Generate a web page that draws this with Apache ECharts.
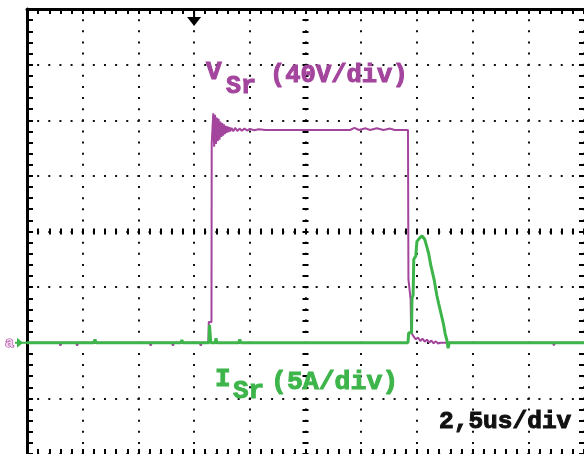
<!DOCTYPE html>
<html>
<head>
<meta charset="utf-8">
<script src="https://cdn.jsdelivr.net/npm/echarts@6/dist/echarts.min.js"></script>
<style>
html,body{margin:0;padding:0;background:#fff;}
#c{width:584px;height:454px;}
</style>
</head>
<body>
<div id="c"></div>
<script>
// Time axis: 2.5 us/div, 10 divisions
const timeTicks = [0, 25];
// V_Sr trace (time in us, volts; 40 V/div)
const vsrTime = [0, 1.45, 1.5, 1.55, 2.2, 2.25, 2.3, 5.5, 5.55, 5.6, 6.5, 6.55, 6.6, 7.75, 7.8, 7.85, 8.14, 8.16, 8.28, 8.29, 8.34,
  8.36, 8.40, 8.44, 8.48, 8.52, 8.56, 8.60, 8.64, 8.68, 8.72, 8.76, 8.80, 8.84, 8.88, 8.92, 8.96, 9.00, 9.04, 9.08, 9.12,
  9.18, 9.26, 9.34, 9.44, 9.54, 9.64, 9.76, 9.88, 10.0, 10.2, 10.4, 10.7,
  14.5, 14.7, 14.9, 15.2, 15.4, 15.7, 16.0, 16.3, 16.5, 17.10,
  17.12, 17.20, 17.22, 17.24, 17.35, 17.45, 17.55, 17.65, 17.75, 17.85, 17.95, 18.05, 18.15, 18.25, 18.35, 18.45, 18.55,
  23.6, 23.65, 23.7, 25];
const vsrVolts = [0, 0, -2, 0, 0, -2, 0, 0, -2, 0, 0, -2, 0, 0, -2, 0, 0, 15, 15, 143, 143,
  165, 141, 164, 143, 162, 145, 161, 146, 159, 148, 158, 149, 157, 150, 156, 151, 155.5, 151.5, 155, 152,
  154.5, 152, 154.5, 152.3, 154, 152.5, 154, 152.6, 153.8, 152.8, 153.5, 153,
  153, 154.5, 153, 154.2, 153, 154.3, 153, 154, 153, 153,
  45.5, 45.5, 31, 7.5, 4.5, 2.5, 3.8, 1.2, 3.0, 0.8, 2.2, 0.2, 1.6, -0.4, 1.0, -0.5, 0,
  0, -1.8, 0, 0];
// I_Sr trace (time in us, amps; 5 A/div)
const isrTime = [0, 3.0, 3.05, 3.1, 6.9, 6.95, 7.0, 8.17, 8.19, 8.23, 8.25, 8.45, 8.48, 8.52, 9.5, 9.55, 9.6,
  17.10, 17.13, 17.26, 17.28, 17.33, 17.36, 17.45, 17.50, 17.62, 17.73, 17.85, 17.95, 18.03, 18.12, 18.20, 18.28,
  18.33, 18.40, 18.48, 18.55, 18.62, 18.70, 18.77, 18.85, 18.90, 18.95, 25];
const isrAmps = [0, 0, 0.3, 0, 0, 0.25, 0, 0, 1.6, 1.6, 0, 0, 0.4, 0, 0, 0.3, 0,
  0, 0.9, 0.9, 4.0, 4.3, 7.5, 7.8, 9.1, 9.4, 9.6, 9.3, 8.6, 8.0, 7.0, 6.3, 5.6,
  5.0, 4.2, 3.5, 2.9, 2.3, 1.6, 0.8, 0.2, -0.5, 0, 0];
// Vertical scales
const voltRange = [-80, 240];
const ampRange = [-10, 30];
const triggerTime = 7.5;

const PURPLE = '#a3449d';
const GREEN = '#3db54a';
const FONT = '"Liberation Mono", "DejaVu Sans Mono", monospace';

const chart = echarts.init(document.getElementById('c'), null, {renderer: 'canvas'});

const hidden = {axisLine:{show:false}, axisTick:{show:false}, axisLabel:{show:false}, splitLine:{show:false}};
const dotX = {show:true, lineStyle:{color:'#111', width:2, type:[2, 9.125], dashOffset:1}};
const dotY = {show:true, lineStyle:{color:'#111', width:2, type:[2, 9.14], dashOffset:1}};

function xa(extra){ return Object.assign({type:'value', min:timeTicks[0], max:timeTicks[1], gridIndex:0}, hidden, extra); }
function ya(range, extra){ return Object.assign({type:'value', min:range[0], max:range[1], gridIndex:0}, hidden, extra); }

const option = {
  backgroundColor: '#fff',
  animation: false,
  grid: {left: 27, top: 9, width: 557, height: 445, containLabel: false},
  xAxis: [
    xa({position:'bottom', interval:2.5, splitLine: dotX}),
    xa({position:'bottom', interval:0.5, axisLine:{show:false, onZero:false}, axisTick:{show:true, inside:true, length:5, lineStyle:{color:'#000', width:2}}}),
    xa({position:'top', interval:0.5, axisLine:{show:true, onZero:false, lineStyle:{color:'#000', width:3}}, axisTick:{show:true, inside:true, length:5, lineStyle:{color:'#000', width:2}}}),
    xa({position:'bottom', offset:-222.5, interval:0.5, axisLine:{show:false, onZero:false}, axisTick:{show:true, inside:true, length:3, lineStyle:{color:'#000', width:2}}}),
    xa({position:'bottom', offset:-222.5, interval:0.5, axisLine:{show:false, onZero:false}, axisTick:{show:true, inside:false, length:3, lineStyle:{color:'#000', width:2}}})
  ],
  yAxis: [
    ya(voltRange, {position:'left', interval:40, splitLine: dotY}),
    ya(ampRange, {position:'right', interval:5}),
    ya(voltRange, {position:'left', interval:8, axisLine:{show:true, onZero:false, lineStyle:{color:'#000', width:3}}, axisTick:{show:true, inside:true, length:6, lineStyle:{color:'#000', width:2}}}),
    ya(voltRange, {position:'right', interval:8, axisLine:{show:false, onZero:false}, axisTick:{show:true, inside:true, length:5, lineStyle:{color:'#000', width:2}}}),
    ya(voltRange, {position:'left', offset:-278.5, interval:8, axisLine:{show:false, onZero:false}, axisTick:{show:true, inside:true, length:3, lineStyle:{color:'#000', width:2}}}),
    ya(voltRange, {position:'left', offset:-278.5, interval:8, axisLine:{show:false, onZero:false}, axisTick:{show:true, inside:false, length:3, lineStyle:{color:'#000', width:2}}})
  ],
  series: [
    {type:'line', name:'V_Sr', xAxisIndex:0, yAxisIndex:0, showSymbol:false, symbol:'none',
     data: vsrTime.map((t, i) => [t, vsrVolts[i]]), lineStyle:{color:PURPLE, width:2}, z:3},
    {type:'line', name:'I_Sr', xAxisIndex:0, yAxisIndex:1, showSymbol:false, symbol:'none',
     data: isrTime.map((t, i) => [t, isrAmps[i]]), lineStyle:{color:GREEN, width:3}, z:4}
  ]
};
chart.setOption(option);

const trig = chart.convertToPixel({xAxisIndex:0, yAxisIndex:0}, [triggerTime, voltRange[1]]);
const gnd = chart.convertToPixel({xAxisIndex:0, yAxisIndex:0}, [0, 0]);

function txt(x, y, s, size, color){
  return {type:'text', x:x, y:y, z:10, style:{text:s, fill:color, stroke:color, lineWidth:1, font:'bold ' + size + 'px ' + FONT, verticalAlign:'middle', align:'left'}};
}

chart.setOption({
  graphic: [
    {type:'polygon', z:10, shape:{points:[[trig[0]-7, trig[1]+8], [trig[0]+7, trig[1]+8], [trig[0], trig[1]+17]]}, style:{fill:'#000'}},
    {type:'line', z:10, shape:{x1:trig[0], y1:trig[1], x2:trig[0], y2:trig[1]+9}, style:{stroke:'#000', lineWidth:2}},
    {type:'polygon', z:10, shape:{points:[[gnd[0]-10, gnd[1]-5], [gnd[0]-4, gnd[1]], [gnd[0]-10, gnd[1]+5]]}, style:{fill:GREEN}},
    {type:'line', z:10, shape:{x1:gnd[0]-12, y1:gnd[1], x2:gnd[0], y2:gnd[1]}, style:{stroke:GREEN, lineWidth:2}},
    {type:'text', x:gnd[0]-22, y:gnd[1], z:10, style:{text:'a', fill:'#f4d8f0', stroke:PURPLE, lineWidth:1.2, font:'bold 15px ' + FONT, verticalAlign:'middle', align:'left'}},
    txt(206, 72, 'V', 26, PURPLE),
    txt(226, 87, 'Sr', 25, PURPLE),
    txt(270, 76, '(40V/div)', 25.5, PURPLE),
    txt(215, 379, 'I', 26, GREEN),
    txt(233, 391, 'Sr', 26, GREEN),
    txt(271, 382, '(5A/div)', 26.5, GREEN),
    txt(439, 422, '2,5us/div', 24.5, '#111')
  ]
});
</script>
</body>
</html>
